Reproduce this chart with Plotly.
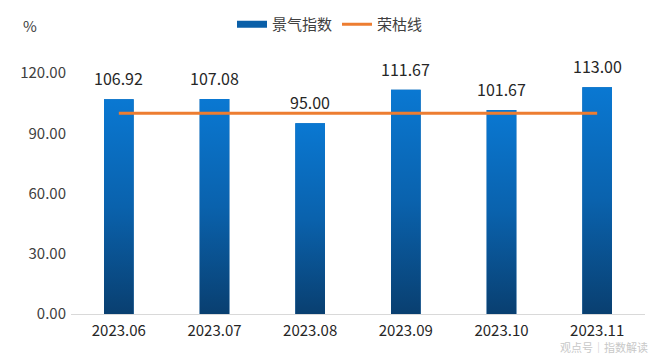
import plotly.graph_objects as go

categories = ["2023.06", "2023.07", "2023.08", "2023.09", "2023.10", "2023.11"]
index_values = [106.92, 107.08, 95.00, 111.67, 101.67, 113.00]
boom_bust = [100, 100, 100, 100, 100, 100]
y_ticks = [0, 30, 60, 90, 120]

BAR_W = 0.31
xs = list(range(len(categories)))

W, H = 660, 357
ML, MR, MT, MB = 63, 23, 37, 51
plot_w = W - ML - MR
plot_h = H - MT - MB


def px(x):
    return (x - ML) / plot_w


def py(y):
    return (H - MB - y) / plot_h


fig = go.Figure()

# base bars
fig.add_trace(go.Bar(
    x=xs, y=index_values, width=BAR_W, name="景气指数", showlegend=False,
    marker=dict(color="#0a5fa8", line=dict(width=0)),
    hoverinfo="x+y",
))

# gradient overlays for each bar
for x, v in zip(xs, index_values):
    fig.add_trace(go.Scatter(
        x=[x - BAR_W / 2, x - BAR_W / 2, x + BAR_W / 2, x + BAR_W / 2, x - BAR_W / 2],
        y=[0, v, v, 0, 0], mode="lines", fill="toself",
        line=dict(width=0, color="rgba(0,0,0,0)"),
        fillgradient=dict(type="vertical", colorscale=[[0, "#093f70"], [0.5, "#0a62ad"], [1, "#0a78d2"]]),
        showlegend=False, hoverinfo="skip",
    ))

# legend swatch for bars (wide rectangle)
fig.add_trace(go.Scatter(
    x=[None], y=[None], mode="lines", name="景气指数",
    line=dict(color="#0a5fa8", width=7),
))

fig.add_trace(go.Scatter(
    x=xs, y=boom_bust, mode="lines", name="荣枯线",
    line=dict(color="#ed7d31", width=3),
))

annotations = [
    dict(x=x, y=v, text=f"{v:.2f}", xref="x", yref="y", showarrow=False,
         xanchor="center", yanchor="bottom", yshift=7,
         font=dict(size=16, color="#262626", family="Noto Sans CJK SC"))
    for x, v in zip(xs, index_values)
]
annotations += [
    dict(text="%", x=px(22), y=py(9), xref="paper", yref="paper", showarrow=False,
         xanchor="center", yanchor="middle", font=dict(size=15, color="#404040")),
    dict(text="观点号｜指数解读", x=px(642), y=py(340), xref="paper", yref="paper",
         xanchor="right", yanchor="middle", showarrow=False,
         font=dict(size=11, color="#c8c8c8")),
]

fig.update_layout(
    width=W, height=H,
    margin=dict(l=ML, r=MR, t=MT, b=MB),
    plot_bgcolor="white", paper_bgcolor="white",
    font=dict(family="Noto Sans CJK SC", size=14, color="#404040"),
    legend=dict(orientation="h", x=322 / W, xanchor="center", y=1.0, yanchor="top",
                yref="container", xref="container", font=dict(size=15, color="#404040"),
                itemwidth=30, tracegroupgap=0, bgcolor="rgba(0,0,0,0)"),
    xaxis=dict(range=[-0.5, len(categories) - 0.5], tickvals=xs, ticktext=categories,
               showgrid=False, showline=True, linecolor="#d9d9d9", linewidth=1,
               ticks="", tickfont=dict(size=15, color="#262626"), zeroline=False,
               ticklabelstandoff=3),
    yaxis=dict(range=[0, 130], tickvals=y_ticks, ticktext=[f"{t:.2f}" for t in y_ticks],
               showgrid=False, zeroline=False, showline=False, ticks="",
               tickfont=dict(size=15, color="#404040"), ticklabelstandoff=4),
    annotations=annotations,
)

fig.write_html("out.html")
